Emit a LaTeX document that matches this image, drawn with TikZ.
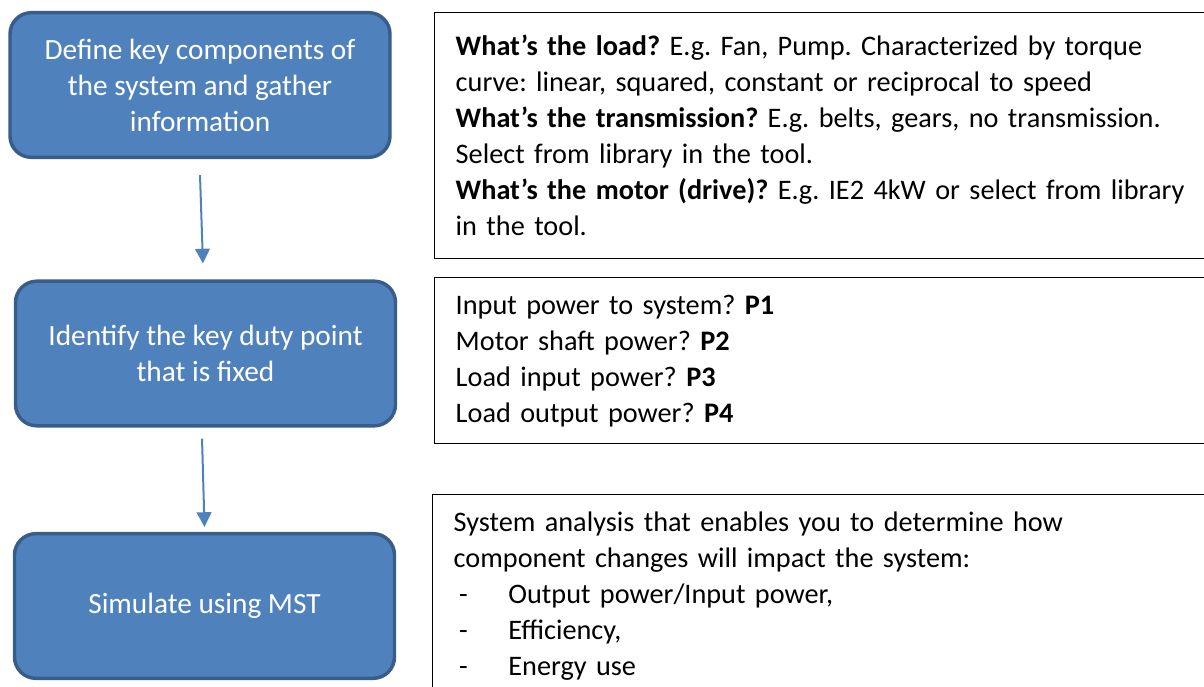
\documentclass[tikz,border=0pt]{standalone}
\usepackage{fontspec}
\setmainfont{Carlito}
\usetikzlibrary{arrows.meta,positioning}
\definecolor{stepblue}{RGB}{79,129,189}
\definecolor{stepedge}{RGB}{56,93,138}
\newcommand{\listdash}{\makebox[41pt][l]{\hspace*{4pt}-}}

\begin{document}
\frenchspacing
\begin{tikzpicture}[
    x=0.75pt, y=-0.75pt,
    stepbox/.style={rectangle, draw=stepedge, line width=2.6pt, fill=stepblue, rounded corners=16pt, minimum width=285pt, minimum height=108.5pt, align=center, text=white, font=\fontsize{22}{27}\selectfont},
    infobox/.style={rectangle, draw=black, line width=1.1pt, anchor=north west, text width=600pt, inner xsep=15.75pt, align=left, font=\fontsize{21.2}{27}\selectfont},
    arrow/.style={-{Triangle[width=11pt,length=11pt]}, draw=stepblue, line width=1.5pt}
]
\useasboundingbox (0,0) rectangle (1204,686);
\clip (0,0) rectangle (1204,686);

% ------------------ Steps ------------------
\node[stepbox] (define) at (200,85) {Define key components of\\the system and gather\\information};
\node[stepbox] (identify) at (205.5,353.5) {Identify the key duty point\\that is fixed};
\node[stepbox] (simulate) at (204.5,606) {Simulate using MST};

% ------------------ Arrows ------------------
\draw[arrow] ([yshift=-12pt]define.south) -- ([xshift=-1.9pt,yshift=12pt]identify.north);
\draw[arrow] ([xshift=-2.6pt,yshift=-8.25pt]identify.south) -- ([yshift=3.75pt]simulate.north);

% ------------------ Notes ------------------
\node[infobox, minimum height=184.5pt] (components) at (434,12) {
    \textbf{What’s the load?} E.g. Fan, Pump. Characterized by torque\\
    curve: linear, squared, constant or reciprocal to speed\\
    \textbf{What’s the transmission?} E.g. belts, gears, no transmission.\\
    Select from library in the tool.\\
    \textbf{What’s the motor (drive)?} E.g. IE2 4kW or select from library\\
    in the tool.};

\node[infobox, minimum height=124.5pt] (duty) at (434,277) {
    Input power to system? \textbf{P1}\\
    Motor shaft power? \textbf{P2}\\
    Load input power? \textbf{P3}\\
    Load output power? \textbf{P4}};

\node[infobox, minimum height=152pt] (analysis) at (432,494) {
    System analysis that enables you to determine how\\
    component changes will impact the system:\\
    \listdash Output power/Input power,\\
    \listdash Efficiency,\\
    \listdash Energy use};

\end{tikzpicture}
\end{document}
